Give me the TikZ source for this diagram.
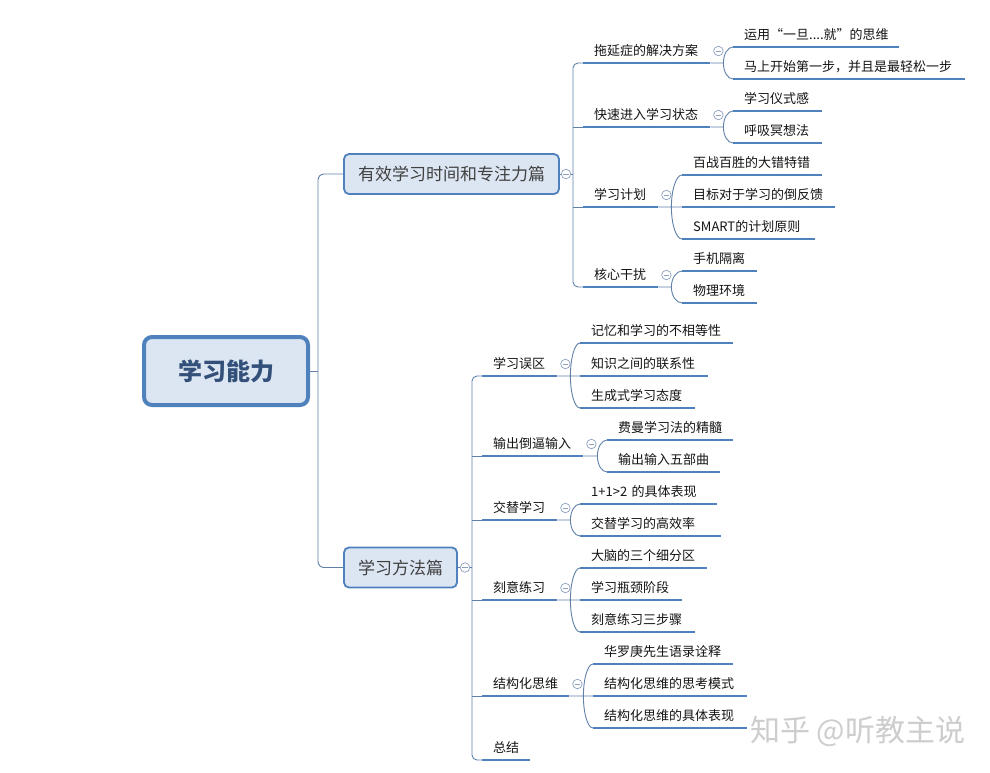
\documentclass[tikz,border=0pt]{standalone}
\usepackage{fontspec}
\setmainfont{Noto Sans CJK SC}
\usepackage{tikz}
\usetikzlibrary{calc}
\definecolor{mmblue}{RGB}{79,129,189}
\definecolor{mmlink}{RGB}{96,128,170}
\definecolor{mmfill}{RGB}{220,230,242}
\definecolor{mmroot}{RGB}{51,80,122}
\definecolor{mmicon}{RGB}{140,160,190}
\definecolor{mmtext}{RGB}{20,20,20}
\definecolor{mmtextb}{RGB}{64,64,64}
\definecolor{mmwater}{RGB}{205,205,205}

\begin{document}
\begin{tikzpicture}[x=1pt, y=-1pt,
  root/.style={draw=mmblue, line width=4pt, fill=mmfill, rounded corners=8pt,
    minimum width=164pt, minimum height=68pt, text=mmroot,
    font=\fontsize{24}{28}\selectfont\bfseries},
  main/.style={draw=mmblue, line width=1.8pt, fill=mmfill, rounded corners=5pt,
    minimum height=40pt, text=mmtextb, font=\fontsize{17}{20}\selectfont},
  topic/.style={anchor=south west, text width=#1, align=left, inner xsep=11pt,
    inner ysep=5pt, text height=11pt, text depth=2pt, text=mmtext,
    font=\fontsize{13}{15}\selectfont},
  uline/.style={mmblue, line width=2.8pt},
  link/.style={mmlink, line width=0.9pt},
  bow/.style={to path={.. controls
    ($(\tikztostart)!0.55!(\tikztostart |- \tikztotarget)$) and
    ($(\tikztotarget)!0.55!(\tikztostart |- \tikztotarget)$) .. (\tikztotarget)}},
  fold/.style={circle, draw=mmicon, fill=white, line width=0.7pt, inner sep=0pt,
    minimum size=9.5pt, path picture={\draw[mmicon, line width=0.7pt]
      ([xshift=-2.6pt]path picture bounding box.center) --
      ([xshift=2.6pt]path picture bounding box.center);}}]
\fill[white] (0,0) rectangle (990,772);
\useasboundingbox (0,0) rectangle (990,772);
% Root and main branches
\node[root] (root) at (226,371) {学习能力};
\node[main, minimum width=215pt] (eff) at (451.5,174) {有效学习时间和专注力篇};
\node[main, minimum width=113pt] (meth) at (400.5,567.5) {学习方法篇};
\coordinate (rj) at (318,371);
\coordinate (ta) at (573,174);
\coordinate (tb) at (472,567.5);
\node[fold] (eff-f) at (566,174) {};
\node[fold] (meth-f) at (465,567.5) {};
% First branch: topics
\node[topic=105pt] (tuo) at (583,63) {拖延症的解决方案};
\node[topic=144pt] (tuo1) at (733,47) {运用“一旦....就”的思维};
\node[topic=210pt] (tuo2) at (733,79) {马上开始第一步，并且是最轻松一步};
\node[topic=105pt] (kuai) at (583,127) {快速进入学习状态};
\node[topic=67pt] (kuai1) at (733,111) {学习仪式感};
\node[topic=67pt] (kuai2) at (733,143) {呼吸冥想法};
\node[topic=53pt] (jihua) at (583,207) {学习计划};
\node[topic=118pt] (jihua1) at (682,175) {百战百胜的大错特错};
\node[topic=131pt] (jihua2) at (682,207) {目标对于学习的倒反馈};
\node[topic=111pt] (jihua3) at (682,239) {SMART的计划原则};
\node[topic=53pt] (ganrao) at (583,287) {核心干扰};
\node[topic=53pt] (ganrao1) at (682,271) {手机隔离};
\node[topic=53pt] (ganrao2) at (682,303) {物理环境};
% Second branch: topics
\node[topic=53pt] (wuqu) at (482,376) {学习误区};
\node[topic=131pt] (wuqu1) at (580,343) {记忆和学习的不相等性};
\node[topic=106pt] (wuqu2) at (580,376) {知识之间的联系性};
\node[topic=93pt] (wuqu3) at (580,408) {生成式学习态度};
\node[topic=79pt] (shuchu) at (482,456) {输出倒逼输入};
\node[topic=104pt] (shuchu1) at (607,440) {费曼学习法的精髓};
\node[topic=91pt] (shuchu2) at (607,472) {输出输入五部曲};
\node[topic=53pt] (jiaoti) at (482,520) {交替学习};
\node[topic=115pt] (jiaoti1) at (580,504) {1+1>2 的具体表现};
\node[topic=119pt] (jiaoti2) at (580,536) {交替学习的高效率};
\node[topic=53pt] (keyi) at (482,600) {刻意练习};
\node[topic=105pt] (keyi1) at (580,568) {大脑的三个细分区};
\node[topic=80pt] (keyi2) at (580,600) {学习瓶颈阶段};
\node[topic=93pt] (keyi3) at (580,632) {刻意练习三步骤};
\node[topic=65pt] (jiegou) at (482,696) {结构化思维};
\node[topic=118pt] (jiegou1) at (593,664) {华罗庚先生语录诠释};
\node[topic=132pt] (jiegou2) at (593,696) {结构化思维的思考模式};
\node[topic=132pt] (jiegou3) at (593,728) {结构化思维的具体表现};
\node[topic=26pt] (zongjie) at (482,760) {总结};
% Connectors
\draw[link] (root.east) -- (rj);
\draw[link, rounded corners=6pt] (eff.west) -| (rj) |- (meth.west);
\draw[link] (eff.east) -- (eff-f.west);
\draw[link] (eff-f.east) -- (ta);
\draw[link, rounded corners=5pt] (tuo.south west) -| (ta) |- (ganrao.south west);
\draw[link] (ta |- kuai.south west) -- (kuai.south west);
\draw[link] (ta |- jihua.south west) -- (jihua.south west);
\draw[link] (meth.east) -- (meth-f.west);
\draw[link] (meth-f.east) -- (tb);
\draw[link, rounded corners=5pt] (wuqu.south west) -| (tb) |- (zongjie.south west);
\draw[link] (tb |- shuchu.south west) -- (shuchu.south west);
\draw[link] (tb |- jiaoti.south west) -- (jiaoti.south west);
\draw[link] (tb |- keyi.south west) -- (keyi.south west);
\draw[link] (tb |- jiegou.south west) -- (jiegou.south west);
% Brackets to the leaves
\draw[link] (tuo.south east) -- ++(13,0) coordinate (tuo-j)
  (tuo-j) to[bow] (tuo1.south west) (tuo-j) to[bow] (tuo2.south west);
\draw[link] (kuai.south east) -- ++(13,0) coordinate (kuai-j)
  (kuai-j) to[bow] (kuai1.south west) (kuai-j) to[bow] (kuai2.south west);
\draw[link] (jihua.south east) -- ++(13,0) coordinate (jihua-j)
  (jihua-j) to[bow] (jihua1.south west) (jihua-j) -- (jihua2.south west)
  (jihua-j) to[bow] (jihua3.south west);
\draw[link] (ganrao.south east) -- ++(13,0) coordinate (ganrao-j)
  (ganrao-j) to[bow] (ganrao1.south west) (ganrao-j) to[bow] (ganrao2.south west);
\draw[link] (wuqu.south east) -- ++(13,0) coordinate (wuqu-j)
  (wuqu-j) to[bow] (wuqu1.south west) (wuqu-j) -- (wuqu2.south west)
  (wuqu-j) to[bow] (wuqu3.south west);
\draw[link] (shuchu.south east) -- ++(14,0) coordinate (shuchu-j)
  (shuchu-j) to[bow] (shuchu1.south west) (shuchu-j) to[bow] (shuchu2.south west);
\draw[link] (jiaoti.south east) -- ++(13,0) coordinate (jiaoti-j)
  (jiaoti-j) to[bow] (jiaoti1.south west) (jiaoti-j) to[bow] (jiaoti2.south west);
\draw[link] (keyi.south east) -- ++(13,0) coordinate (keyi-j)
  (keyi-j) to[bow] (keyi1.south west) (keyi-j) -- (keyi2.south west)
  (keyi-j) to[bow] (keyi3.south west);
\draw[link] (jiegou.south east) -- ++(14,0) coordinate (jiegou-j)
  (jiegou-j) to[bow] (jiegou1.south west) (jiegou-j) -- (jiegou2.south west)
  (jiegou-j) to[bow] (jiegou3.south west);
% Underlines and fold marks
\foreach \n in {tuo,tuo1,tuo2,kuai,kuai1,kuai2,jihua,jihua1,jihua2,jihua3,
  ganrao,ganrao1,ganrao2,wuqu,wuqu1,wuqu2,wuqu3,shuchu,shuchu1,shuchu2,
  jiaoti,jiaoti1,jiaoti2,keyi,keyi1,keyi2,keyi3,jiegou,jiegou1,jiegou2,
  jiegou3,zongjie}
  \draw[uline] (\n.south west) -- (\n.south east);
\foreach \n in {tuo,kuai,jihua,ganrao,wuqu,shuchu,jiaoti,keyi,jiegou}
  \node[fold] (\n-f) at ([xshift=8pt,yshift=12pt]\n.south east) {};
% Watermark
\node[anchor=west, inner sep=0pt, text=mmwater, font=\fontsize{30}{34}\selectfont]
  (wm) at (750,731) {知乎 @听教主说};
\end{tikzpicture}
\end{document}
